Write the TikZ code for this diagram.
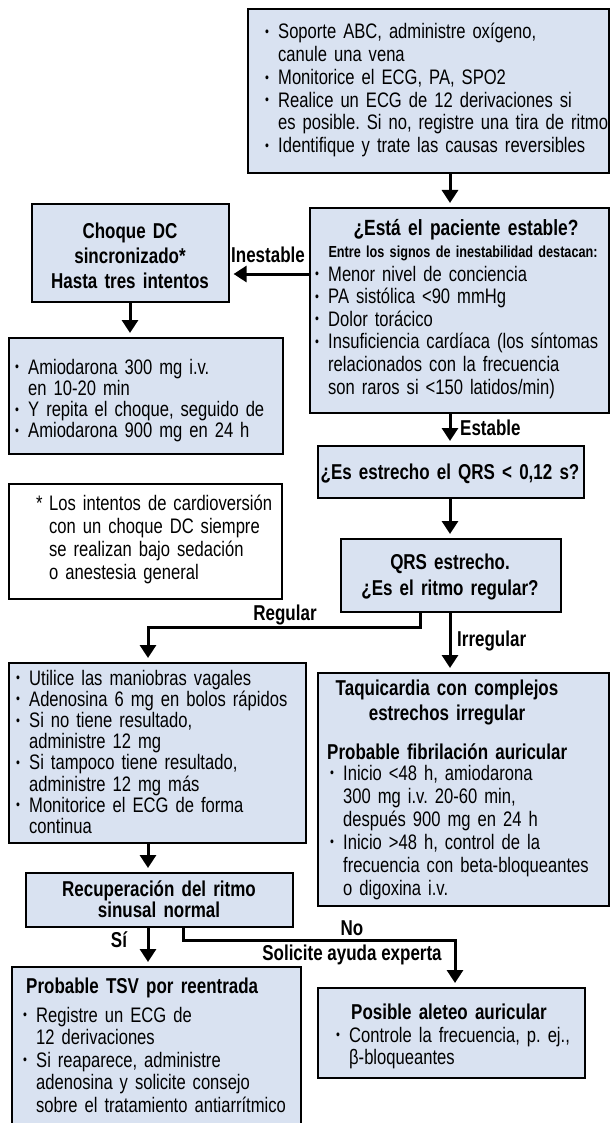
\documentclass[tikz,border=0pt]{standalone}
\usepackage{fontspec}
\setmainfont{Liberation Sans}[FakeStretch=0.79]
\usetikzlibrary{arrows.meta,calc}
\definecolor{boxblue}{RGB}{217,226,241}
\frenchspacing
\newcommand{\fsz}[2]{\fontsize{#1}{#2}\selectfont}
\newcommand{\bul}{\makebox[13pt][l]{\raisebox{0.2ex}{\fontsize{14}{14}\selectfont •}}}
\newcommand{\cnt}{\hspace*{13pt}}
\tikzset{
  box/.style={draw=black, line width=1.6pt, fill=boxblue, inner sep=0pt, anchor=north west},
  notebox/.style={draw=black, line width=1.6pt, fill=white, inner sep=0pt, anchor=north west},
  txt/.style={inner sep=0pt, anchor=base west, align=left, text width=420pt},
  ctxt/.style={inner sep=0pt, anchor=base, align=center, text width=330pt},
  arr/.style={line width=3pt, line join=miter, -{Triangle[length=13pt,width=16pt]}, shorten >=4pt},
  lbl/.style={inner sep=0pt, font=\bfseries\fsz{21.5}{22}},
}
\begin{document}
\begin{tikzpicture}[x=1pt,y=-1pt]
\useasboundingbox (0,0) rectangle (610,1123);
\clip (0,0) rectangle (610,1123);
\fill[white] (0,0) rectangle (610,1123);

% boxes
\node[box, minimum width=361pt, minimum height=164pt] (top) at (247,8) {};
\node[box, minimum width=299pt, minimum height=205pt] (stable) at (309,207) {};
\node[box, minimum width=197pt, minimum height=98pt] (choque) at (31,203) {};
\node[box, minimum width=274pt, minimum height=116pt] (amio) at (8,337) {};
\node[notebox, minimum width=273pt, minimum height=115pt] (note) at (8,483) {};
\node[box, minimum width=266pt, minimum height=52pt] (qrs) at (317,445) {};
\node[box, minimum width=220pt, minimum height=73pt] (reg) at (340,538) {};
\node[box, minimum width=297pt, minimum height=180pt] (vagal) at (8,662) {};
\node[box, minimum width=291pt, minimum height=233pt] (taqui) at (317,672) {};
\node[box, minimum width=267pt, minimum height=54pt] (recup) at (25,872) {};
\node[box, minimum width=289pt, minimum height=170pt] (tsv) at (11,966) {};
\node[box, minimum width=267pt, minimum height=90pt] (aleteo) at (317,987) {};

% texts
\node[txt, font=\fsz{21}{22.7}] (topT) at (265,39) {%
\bul Soporte ABC, administre oxígeno,\\
\cnt canule una vena\\
\bul Monitorice el ECG, PA, SPO2\\
\bul Realice un ECG de 12 derivaciones si\\
\cnt es posible. Si no, registre una tira de ritmo\\
\bul Identifique y trate las causas reversibles};

\node[ctxt, font=\bfseries\fsz{22}{22}] (stableH) at (466,236) {¿Está el paciente estable?};
\node[ctxt, font=\bfseries\fsz{16}{17}] (stableS) at (463,258) {Entre los signos de inestabilidad destacan:};
\node[txt, font=\fsz{21}{22.6}] (stableT) at (315,281) {%
\bul Menor nivel de conciencia\\
\bul PA sistólica <90 mmHg\\
\bul Dolor torácico\\
\bul Insuficiencia cardíaca (los síntomas\\
\cnt relacionados con la frecuencia\\
\cnt son raros si <150 latidos/min)};

\node[ctxt, font=\bfseries\fsz{21.5}{25}] (choqueT) at (130,238) {Choque DC\\ sincronizado*\\ Hasta tres intentos};

\node[txt, font=\fsz{21}{21.3}] (amioT) at (15,374) {%
\bul Amiodarona 300 mg i.v.\\
\cnt en 10-20 min\\
\bul Y repita el choque, seguido de\\
\bul Amiodarona 900 mg en 24 h};

\node[txt, font=\fsz{21}{23}] (noteT) at (36,510) {%
\makebox[13pt][l]{*}Los intentos de cardioversión\\
\cnt con un choque DC siempre\\
\cnt se realizan bajo sedación\\
\cnt o anestesia general};

\node[ctxt, font=\bfseries\fsz{21.5}{22}] (qrsT) at (450,479) {¿Es estrecho el QRS < 0,12 s?};
\node[ctxt, font=\bfseries\fsz{21.5}{26}] (regT) at (450,569) {QRS estrecho.\\ ¿Es el ritmo regular?};

\node[txt, font=\fsz{21}{21.2}] (vagalT) at (16,685) {%
\bul Utilice las maniobras vagales\\
\bul Adenosina 6 mg en bolos rápidos\\
\bul Si no tiene resultado,\\
\cnt administre 12 mg\\
\bul Si tampoco tiene resultado,\\
\cnt administre 12 mg más\\
\bul Monitorice el ECG de forma\\
\cnt continua};

\node[ctxt, font=\bfseries\fsz{21.5}{25}] (taquiH) at (447,695) {Taquicardia con complejos\\ estrechos irregular};
\node[txt, font=\bfseries\fsz{21.5}{22}] (taquiS) at (327,759) {Probable fibrilación auricular};
\node[txt, font=\fsz{21}{23}] (taquiT) at (330,780) {%
\bul Inicio <48 h, amiodarona\\
\cnt 300 mg i.v. 20-60 min,\\
\cnt después 900 mg en 24 h\\
\bul Inicio >48 h, control de la\\
\cnt frecuencia con beta-bloqueantes\\
\cnt o digoxina i.v.};

\node[ctxt, font=\bfseries\fsz{21.5}{21}] (recupT) at (159,896) {Recuperación del ritmo\\ sinusal normal};

\node[txt, font=\bfseries\fsz{21.5}{22}] (tsvH) at (26,993) {Probable TSV por reentrada};
\node[txt, font=\fsz{21}{22.5}] (tsvT) at (23,1022) {%
\bul Registre un ECG de\\
\cnt 12 derivaciones\\
\bul Si reaparece, administre\\
\cnt adenosina y solicite consejo\\
\cnt sobre el tratamiento antiarrítmico};

\node[ctxt, font=\bfseries\fsz{21.5}{22}] (aleteoH) at (449,1019) {Posible aleteo auricular};
\node[txt, font=\fsz{21}{22}] (aleteoT) at (336,1042) {%
\bul Controle la frecuencia, p. ej.,\\
\cnt β-bloqueantes};

% connector coordinates
\coordinate (cA) at (450,0);
\coordinate (cR) at (420,0);
\coordinate (cL) at (148,0);
\coordinate (cN) at (183,0);
\coordinate (cM) at (455,0);
\coordinate (cC) at (130,0);
\coordinate (yI) at (0,274);
\coordinate (bendR) at (148,627);
\coordinate (bendN) at (455,940);

% connectors
\draw[arr] (top.south -| cA) -- (stable.north -| cA);
\draw[arr] (stable.west |- yI) -- (choque.east |- yI);
\draw[arr] (choque.south -| cC) -- (amio.north -| cC);
\draw[arr] (stable.south -| cA) -- (qrs.north -| cA);
\draw[arr] (qrs.south -| cA) -- (reg.north -| cA);
\draw[arr] (reg.south -| cR) |- (bendR) -- (vagal.north -| cL);
\draw[arr] (reg.south -| cA) -- (taqui.north -| cA);
\draw[arr] (vagal.south -| cL) -- (recup.north -| cL);
\draw[arr] (recup.south -| cL) -- (tsv.north -| cL);
\draw[arr] (recup.south -| cN) |- (bendN) -- (aleteo.north -| cM);

% labels
\node[lbl, anchor=base] (lInest) at (268,262) {Inestable};
\node[lbl, anchor=base west] (lEst) at (460,435) {Estable};
\node[lbl, anchor=base] (lReg) at (285,620) {Regular};
\node[lbl, anchor=base west] (lIrr) at (457,646) {Irregular};
\node[lbl, anchor=base] (lSi) at (119,947) {Sí};
\node[lbl, anchor=base] (lNo) at (352,935) {No};
\node[lbl, anchor=base] (lSol) at (352,960) {Solicite ayuda experta};
\end{tikzpicture}
\end{document}
